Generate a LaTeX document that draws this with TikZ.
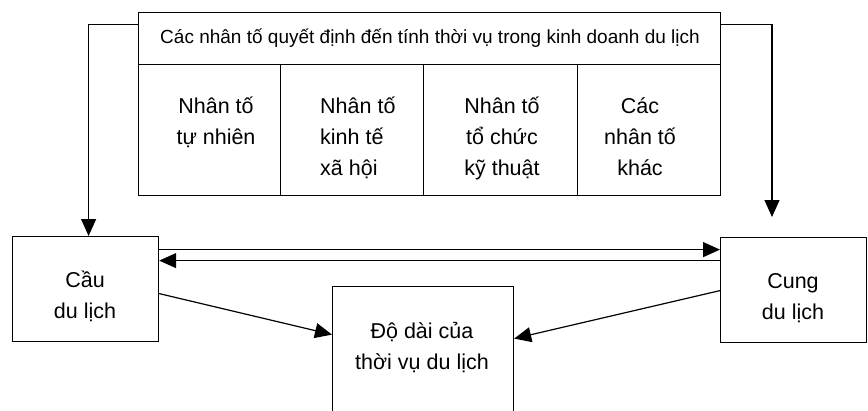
\documentclass[tikz,border=0pt]{standalone}
\usepackage{fontspec}
\setmainfont{Liberation Sans}
\usetikzlibrary{arrows.meta}
\begin{document}
\begin{tikzpicture}[x=1pt,y=-1pt,
  box/.style={draw, line width=1.2pt, inner sep=0pt, anchor=north west},
  txt/.style={inner sep=0pt, font=\fontsize{21.5}{31}\selectfont, align=center},
  hdr/.style={inner sep=0pt, font=\fontsize{19}{23}\selectfont},
  arr/.style={line width=1.2pt, -{Triangle[length=17pt,width=15pt]}}]
\useasboundingbox (0,0) rectangle (868,410);
% top block
\node[box, minimum width=582pt, minimum height=52pt] (head) at (138,12) {};
\node[hdr] (headtxt) at (430,38) {Các nhân tố quyết định đến tính thời vụ trong kinh doanh du lịch};
\node[box, minimum width=142pt, minimum height=131pt] (c1) at (138,64) {};
\node[box, minimum width=143pt, minimum height=131pt] (c2) at (280,64) {};
\node[box, minimum width=154pt, minimum height=131pt] (c3) at (423,64) {};
\node[box, minimum width=143pt, minimum height=131pt] (c4) at (577,64) {};
\node[txt, anchor=north] (t1) at (216,97) {Nhân tố\\tự nhiên};
\node[txt, anchor=north west, align=left] (t2) at (320,97) {Nhân tố\\kinh tế\\xã hội};
\node[txt, anchor=north] (t3) at (502,97) {Nhân tố\\tổ chức\\kỹ thuật};
\node[txt, anchor=north] (t4) at (640,97) {Các\\nhân tố\\khác};
% lower boxes
\node[box, minimum width=146pt, minimum height=105pt] (cau) at (12,236) {};
\node[txt, anchor=north] (caut) at (85,271) {Cầu\\du lịch};
\node[box, minimum width=146pt, minimum height=105pt] (cung) at (720,237) {};
\node[txt, anchor=north] (cungt) at (793,273) {Cung\\du lịch};
\node[box, minimum width=181pt, minimum height=129pt] (doda) at (332,286) {};
\node[txt, anchor=north] (dodat) at (422,322) {Độ dài của\\thời vụ du lịch};
% connectors
\coordinate (rtip) at (772,217);
\draw[arr] ([yshift=14pt]head.west) -| ([xshift=3pt]cau.north);
\draw[arr] ([yshift=14pt]head.east) -| (rtip);
\coordinate (u) at ([yshift=39.5pt]cau.east);
\coordinate (l) at ([yshift=28.5pt]cau.east);
\draw[arr] (u) -- (u -| cung.west);
\draw[arr] (l -| cung.west) -- (l);
\draw[arr] ([yshift=-4.5pt]cau.east) -- ([yshift=16.5pt]doda.west);
\draw[arr] ([yshift=-0.5pt]cung.west) -- ([yshift=12.5pt]doda.east);
\end{tikzpicture}
\end{document}
